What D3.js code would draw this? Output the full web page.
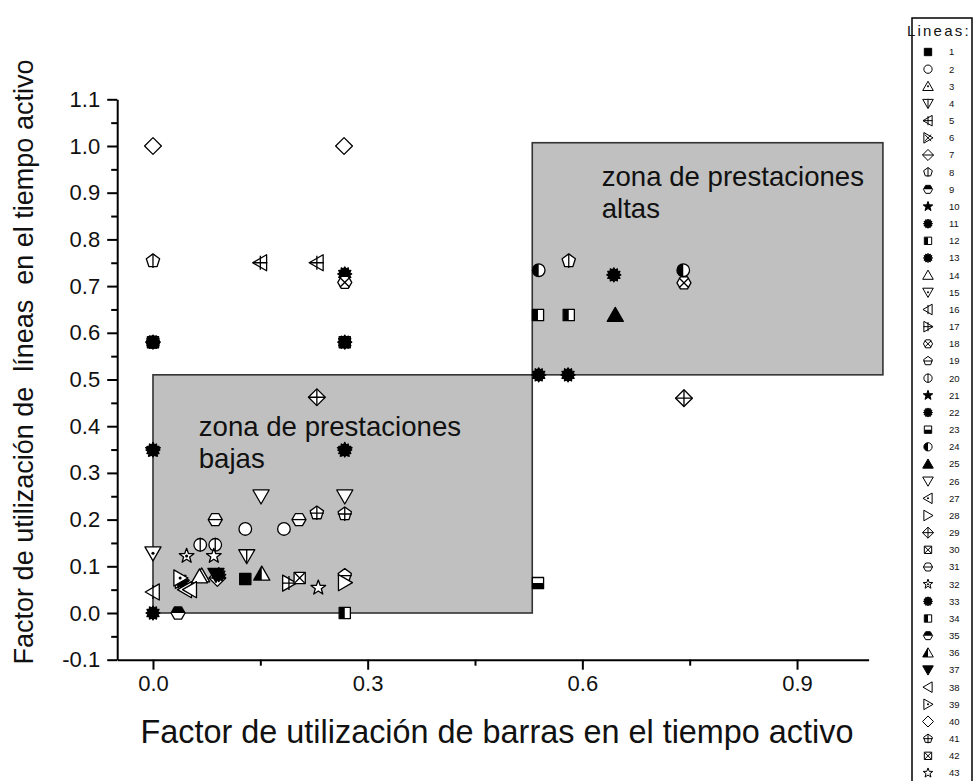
<!DOCTYPE html>
<html>
<head>
<meta charset="utf-8">
<script src="https://cdn.jsdelivr.net/npm/d3@7"></script>
<style>
  html, body { margin: 0; padding: 0; background: #fff; }
  svg { display: block; font-family: "Liberation Sans", Arial, sans-serif; }
</style>
</head>
<body>
<script>
// ---- data ---------------------------------------------------------------
// line number of every plotted point, with its two utilisation factors
const pointLine = [1, 2, 2, 3, 4, 5, 5, 6, 7, 8, 8, 9, 10, 11, 11, 11, 12, 12, 13, 13,
  14, 15, 16, 17, 18, 18, 19, 20, 20, 21, 22, 22, 23, 24, 24, 25, 26, 26, 27, 28,
  29, 29, 30, 30, 31, 31, 32, 33, 33, 33, 33, 34, 35, 36, 37, 38, 39, 40, 40, 41, 41, 42, 43, 43];
const pointX = [0.129, 0.129, 0.183, 0.068, 0.131, 0.150, 0.229, 0.040, 0.090, 0.000, 0.581, 0.000, 0.000, 0.000, 0.000, 0.268, 0.538, 0.581, 0.268, 0.644,
  0.065, 0.000, 0.000, 0.190, 0.268, 0.742, 0.268, 0.066, 0.087, 0.268, 0.040, 0.092, 0.538, 0.539, 0.741, 0.646, 0.151, 0.268, 0.045, 0.268,
  0.229, 0.742, 0.000, 0.268, 0.087, 0.204, 0.047, 0.000, 0.268, 0.539, 0.580, 0.268, 0.035, 0.152, 0.088, 0.052, 0.038, 0.000, 0.267, 0.229, 0.268, 0.205, 0.085, 0.231];
const pointY = [0.073, 0.180, 0.180, 0.080, 0.122, 0.750, 0.750, 0.070, 0.075, 0.754, 0.754, 0.580, 0.349, 0.000, 0.349, 0.349, 0.638, 0.638, 0.726, 0.724,
  0.078, 0.128, 0.045, 0.064, 0.708, 0.707, 0.080, 0.146, 0.146, 0.349, 0.068, 0.082, 0.064, 0.734, 0.734, 0.638, 0.250, 0.250, 0.050, 0.065,
  0.462, 0.460, 0.580, 0.580, 0.200, 0.200, 0.122, 0.580, 0.580, 0.510, 0.510, 0.000, 0.000, 0.084, 0.082, 0.050, 0.075, 1.000, 1.000, 0.214, 0.212, 0.075, 0.122, 0.054];

// marker of every line: [shape, interior]
const lineSymbols = [
  ["square", "solid"], ["circle", "open"], ["up", "dot"], ["down", "pipe"], ["left", "plus"],
  ["right", "x"], ["diamond", "minus"], ["pentagon", "pipe"], ["hexagon", "top"], ["star", "solid"],
  ["bumpy", "solid"], ["square", "left"], ["bumpy", "solid"], ["up", "open"], ["down", "dot"],
  ["left", "pipe"], ["right", "plus"], ["hexagon", "x"], ["pentagon", "minus"], ["circle", "pipe"],
  ["star", "solid"], ["bumpy", "solid"], ["square", "bottom"], ["circle", "left"], ["up", "solid"],
  ["down", "open"], ["left", "dot"], ["right", "open"], ["diamond", "plus"], ["square", "x"],
  ["hexagon", "minus"], ["star", "dot"], ["bumpy", "solid"], ["square", "left"], ["hexagon", "top"],
  ["up", "left"], ["down", "solid"], ["left", "open"], ["right", "dot"], ["diamond", "open"],
  ["pentagon", "plus"], ["square", "x"], ["star", "open"]
];
const lineIds = d3.range(1, 44);

// shaded performance zones
const zoneX0 = [0.0, 0.53];
const zoneX1 = [0.53, 1.02];
const zoneY0 = [0.0, 0.51];
const zoneY1 = [0.51, 1.007];
const zoneLabels = [["zona de prestaciones", "bajas"], ["zona de prestaciones", "altas"]];
const zoneLabelX = [0.064, 0.627];
const zoneLabelY = [0.378, 0.915];

const xTicks = [0.0, 0.3, 0.6, 0.9];
const xMinorTicks = [0.15, 0.45, 0.75];
const yTicks = [-0.1, 0.0, 0.1, 0.2, 0.3, 0.4, 0.5, 0.6, 0.7, 0.8, 0.9, 1.0, 1.1];
const yMinorTicks = [-0.05, 0.05, 0.15, 0.25, 0.35, 0.45, 0.55, 0.65, 0.75, 0.85, 0.95, 1.05];

const xTitle = "Factor de utilización de barras en el tiempo activo";
const yTitle = "Factor de utilización de  líneas  en el tiempo activo";
const legendTitle = "Lineas:";

// ---- layout -------------------------------------------------------------
const W = 974, H = 781;
const svg = d3.select("body").append("svg").attr("width", W).attr("height", H);

const x = d3.scaleLinear().domain([-0.05, 1.0]).range([117.2, 868.6]);
const y = d3.scaleLinear().domain([-0.1, 1.1]).range([659.7, 99.3]);

// clip regions for half-filled markers
const defs = svg.append("defs");
const halves = { left: [0, 0, 0.5, 1], right: [0.5, 0, 0.5, 1], top: [0, 0, 1, 0.5], bottom: [0, 0.5, 1, 0.5] };
Object.entries(halves).forEach(([k, r]) => {
  defs.append("clipPath").attr("id", "half-" + k).attr("clipPathUnits", "objectBoundingBox")
    .append("rect").attr("x", r[0]).attr("y", r[1]).attr("width", r[2]).attr("height", r[3]);
});

// ---- zones --------------------------------------------------------------
const zones = svg.append("g");
zoneX0.forEach((_, i) => {
  zones.append("rect")
    .attr("x", x(zoneX0[i])).attr("y", y(zoneY1[i]))
    .attr("width", x(zoneX1[i]) - x(zoneX0[i]))
    .attr("height", y(zoneY0[i]) - y(zoneY1[i]))
    .attr("fill", "#c0c0c0").attr("stroke", "#333").attr("stroke-width", 1.6);
});
zoneLabels.forEach((lines, i) => {
  const t = zones.append("text")
    .attr("x", x(zoneLabelX[i])).attr("y", y(zoneLabelY[i]))
    .attr("font-size", 27.6).attr("fill", "#111");
  lines.forEach((s, j) => t.append("tspan").attr("x", x(zoneLabelX[i])).attr("dy", j ? 32 : 0).text(s));
});

// ---- axes ---------------------------------------------------------------
const fmt = d => d.toFixed(1);
const xAxisG = svg.append("g").attr("transform", `translate(0,${y(-0.1)})`);
xAxisG.call(d3.axisBottom(x).tickValues(xTicks).tickFormat(fmt).tickSize(10).tickSizeOuter(0).tickPadding(6));
xAxisG.append("g").call(d3.axisBottom(x).tickValues(xMinorTicks).tickFormat("").tickSize(6).tickSizeOuter(0))
  .select(".domain").remove();

const yAxisG = svg.append("g").attr("transform", `translate(${x(-0.05)},0)`);
yAxisG.call(d3.axisLeft(y).tickValues(yTicks).tickFormat(fmt).tickSize(10).tickSizeOuter(0).tickPadding(7));
yAxisG.append("g").call(d3.axisLeft(y).tickValues(yMinorTicks).tickFormat("").tickSize(6).tickSizeOuter(0))
  .select(".domain").remove();

svg.selectAll(".domain, .tick line").attr("stroke", "#000").attr("stroke-width", 2);
xAxisG.selectAll(".tick text").attr("font-size", 22).attr("font-family", "Liberation Sans, Arial, sans-serif").attr("fill", "#111");
yAxisG.selectAll(".tick text").attr("font-size", 22).attr("font-family", "Liberation Sans, Arial, sans-serif").attr("fill", "#111");

svg.append("text").attr("x", 497).attr("y", 743).attr("text-anchor", "middle")
  .attr("font-size", 32.4).attr("fill", "#111").text(xTitle);
svg.append("text").attr("transform", "translate(33,362) rotate(-90)").attr("text-anchor", "middle")
  .style("white-space", "pre").attr("font-size", 27).attr("fill", "#111").text(yTitle);

// ---- markers ------------------------------------------------------------
function polygon(pts) { return "M" + pts.map(p => p.join(",")).join("L") + "Z"; }
function regular(n, rad, rot) {
  return d3.range(n).map(i => {
    const a = rot + i * 2 * Math.PI / n;
    return [rad * Math.sin(a), -rad * Math.cos(a)];
  });
}
function starPts(n, ro, ri) {
  return d3.range(2 * n).map(i => {
    const a = i * Math.PI / n, rr = i % 2 ? ri : ro;
    return [rr * Math.sin(a), -rr * Math.cos(a)];
  });
}
function shapePath(shape, r) {
  switch (shape) {
    case "square": { const s = 0.8 * r; return polygon([[-s, -s], [s, -s], [s, s], [-s, s]]); }
    case "circle": { const c = 0.9 * r; return `M${-c},0A${c},${c} 0 1,0 ${c},0A${c},${c} 0 1,0 ${-c},0Z`; }
    case "up": return polygon([[0, -1.1 * r], [1.15 * r, 0.9 * r], [-1.15 * r, 0.9 * r]]);
    case "down": return polygon([[-1.15 * r, -0.9 * r], [1.15 * r, -0.9 * r], [0, 1.1 * r]]);
    case "left": return polygon([[-1.1 * r, 0], [0.9 * r, -1.15 * r], [0.9 * r, 1.15 * r]]);
    case "right": return polygon([[1.1 * r, 0], [-0.9 * r, -1.15 * r], [-0.9 * r, 1.15 * r]]);
    case "diamond": return polygon([[0, -1.2 * r], [1.2 * r, 0], [0, 1.2 * r], [-1.2 * r, 0]]);
    case "pentagon": return polygon(regular(5, r, 0));
    case "hexagon": return polygon(regular(6, r, Math.PI / 6));
    case "star": return polygon(starPts(5, 1.1 * r, 0.45 * r));
    case "bumpy": return polygon(starPts(12, 1.0 * r, 0.72 * r));
  }
}
function drawSymbol(g, spec, r, sw) {
  const [shape, fill] = spec;
  const d = shapePath(shape, r);
  const k = shape === "diamond" ? 1.2 * r : r;
  g.append("path").attr("d", d)
    .attr("fill", fill === "solid" ? "#000" : "#fff")
    .attr("stroke", "#000").attr("stroke-width", sw).attr("stroke-linejoin", "round");
  if (halves[fill]) {
    g.append("path").attr("d", d).attr("fill", "#000").attr("clip-path", `url(#half-${fill})`);
  }
  let inner = null;
  if (fill === "plus") inner = `M${-k},0H${k}M0,${-k}V${k}`;
  if (fill === "x") { const a = 0.7 * k; inner = `M${-a},${-a}L${a},${a}M${-a},${a}L${a},${-a}`; }
  if (fill === "minus") inner = `M${-k},0H${k}`;
  if (fill === "pipe") inner = `M0,${-k}V${k}`;
  if (inner) g.append("path").attr("d", inner).attr("stroke", "#000").attr("stroke-width", sw).attr("fill", "none");
  if (fill === "dot") g.append("circle").attr("r", 0.22 * r).attr("fill", "#000");
}

const points = pointLine.map((l, i) => ({ line: l, x: pointX[i], y: pointY[i] }));
const marks = svg.append("g");
points.forEach(p => {
  const g = marks.append("g").attr("transform", `translate(${x(p.x)},${y(p.y)})`);
  drawSymbol(g, lineSymbols[p.line - 1], 7, 1.3);
});

// ---- legend -------------------------------------------------------------
const legend = svg.append("g");
legend.append("rect").attr("x", 912).attr("y", 18).attr("width", 60).attr("height", 790)
  .attr("fill", "#fff").attr("stroke", "#000").attr("stroke-width", 1.5);
legend.append("text").attr("x", 907).attr("y", 36)
  .attr("font-size", 15).attr("letter-spacing", 2.2).attr("fill", "#111").text(legendTitle);
const ly = d3.scaleLinear().domain([1, 43]).range([52, 773]);
lineIds.forEach(id => {
  const g = legend.append("g").attr("transform", `translate(928,${ly(id)})`);
  drawSymbol(g, lineSymbols[id - 1], 4.6, 1);
  legend.append("text").attr("x", 949).attr("y", ly(id) + 3.4)
    .attr("font-size", 9.5).attr("fill", "#111").text(id);
});
</script>
</body>
</html>
